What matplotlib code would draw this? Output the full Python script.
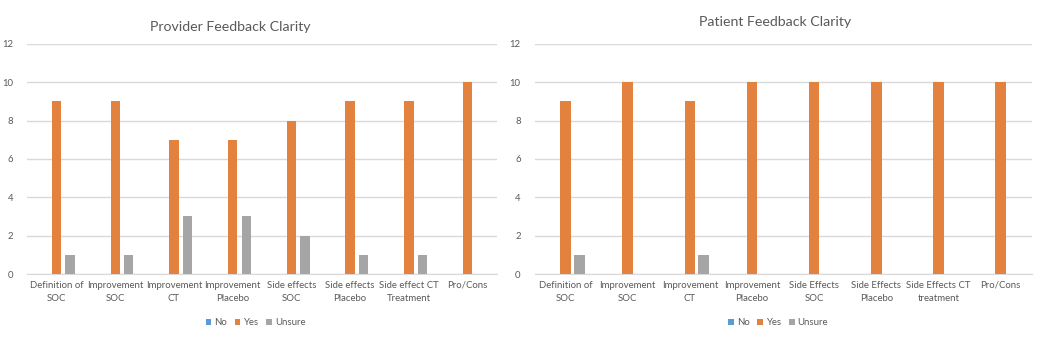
import numpy as np
import matplotlib.pyplot as plt

plt.rcParams['font.family'] = ['Lato', 'DejaVu Sans']

provider_categories = ["Definition of\nSOC", "Improvement\nSOC", "Improvement\nCT",
                       "Improvement\nPlacebo", "Side effects\nSOC", "Side effects\nPlacebo",
                       "Side effect CT\nTreatment", "Pro/Cons"]
provider_no = [0, 0, 0, 0, 0, 0, 0, 0]
provider_yes = [9, 9, 7, 7, 8, 9, 9, 10]
provider_unsure = [1, 1, 3, 3, 2, 1, 1, 0]

patient_categories = ["Definition of\nSOC", "Improvement\nSOC", "Improvement\nCT",
                      "Improvement\nPlacebo", "Side Effects\nSOC", "Side Effects\nPlacebo",
                      "Side Effects CT\ntreatment", "Pro/Cons"]
patient_no = [0, 0, 0, 0, 0, 0, 0, 0]
patient_yes = [9, 10, 9, 10, 10, 10, 10, 10]
patient_unsure = [1, 0, 1, 0, 0, 0, 0, 0]

series_names = ["No", "Yes", "Unsure"]
series_colors = ["#5B9BD5", "#E3813F", "#A5A5A5"]
yticks = [0, 2, 4, 6, 8, 10, 12]

text_color = "#595959"
grid_color = "#D9D9D9"

fig = plt.figure(figsize=(10.42, 3.4), dpi=100)
ax1 = fig.add_axes([0.026, 0.194, 0.451, 0.677])
ax2 = fig.add_axes([0.513, 0.194, 0.477, 0.677])


def draw(ax, title, title_x, title_pad, legend_x, categories, series, width, offset):
    x = np.arange(len(categories))
    for i, (vals, name, col) in enumerate(zip(series, series_names, series_colors)):
        ax.bar(x + (i - 1) * offset, vals, width=width, color=col, label=name, zorder=3)
    ax.set_xlim(-0.5, len(categories) - 0.5)
    ax.set_ylim(0, 12)
    ax.set_yticks(yticks)
    ax.set_xticks(x)
    ax.set_xticklabels(categories, fontsize=6.9, color=text_color, linespacing=1.55)
    ax.tick_params(axis='y', labelsize=6.9, colors=text_color, length=0, pad=10)
    ax.tick_params(axis='x', length=0, pad=5)
    ax.grid(axis='y', color=grid_color, linewidth=1, zorder=0)
    for s in ("top", "right", "left"):
        ax.spines[s].set_visible(False)
    ax.spines["bottom"].set_color(grid_color)
    ax.set_title(title, fontsize=10.2, color=text_color, x=title_x, pad=title_pad)
    ax.legend(loc="upper center", bbox_to_anchor=(legend_x, -0.155), ncol=3, frameon=False,
              fontsize=6.9, labelcolor=text_color, handlelength=0.6, handleheight=0.6,
              handletextpad=0.3, columnspacing=0.8)


draw(ax1, "Provider Feedback Clarity", 0.432, 9, 0.486, provider_categories,
     [provider_no, provider_yes, provider_unsure], 0.16, 0.23)
draw(ax2, "Patient Feedback Clarity", 0.483, 13, 0.49, patient_categories,
     [patient_no, patient_yes, patient_unsure], 0.17, 0.22)

fig.savefig("out.png", dpi=100, facecolor="white")
